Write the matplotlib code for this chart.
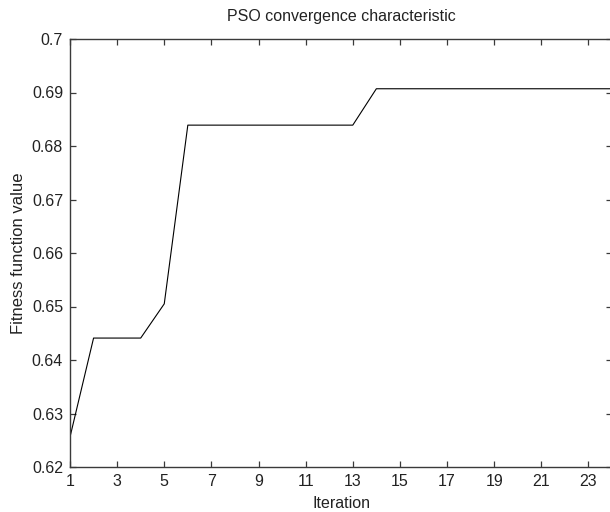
import matplotlib
matplotlib.use('Agg')
import matplotlib.pyplot as plt

# data
iterations = list(range(1, 25))
fitness = [0.6256, 0.6441, 0.6441, 0.6441, 0.6505, 0.6839, 0.6839, 0.6839,
           0.6839, 0.6839, 0.6839, 0.6839, 0.6839, 0.6907, 0.6907, 0.6907,
           0.6907, 0.6907, 0.6907, 0.6907, 0.6907, 0.6907, 0.6907, 0.6907]
xticks = [1, 3, 5, 7, 9, 11, 13, 15, 17, 19, 21, 23]
yticks = [0.62, 0.63, 0.64, 0.65, 0.66, 0.67, 0.68, 0.69, 0.7]
ytick_labels = ['0.62', '0.63', '0.64', '0.65', '0.66', '0.67', '0.68', '0.69', '0.7']

plt.rcParams['font.family'] = ['Liberation Sans', 'DejaVu Sans']
plt.rcParams['font.size'] = 11.5

W, H = 610, 512
fig = plt.figure(figsize=(W / 100, H / 100), dpi=100)
# right spine sits just outside the image, as in the reference
ax = fig.add_axes([70 / W, 1 - 467 / H, (612 - 70) / W, (467 - 39) / H])

ax.plot(iterations, fitness, color='black', linewidth=0.8)

ax.set_xlim(1, 24)
ax.set_ylim(0.62, 0.7)
ax.set_xticks(xticks)
ax.set_yticks(yticks)
ax.set_yticklabels(ytick_labels)

for s in ax.spines.values():
    s.set_color('#3a3a3a')
    s.set_linewidth(1.0)
ax.tick_params(direction='in', top=True, right=True, length=4, width=0.9,
               color='#3a3a3a', labelcolor='#222222', labelsize=11.5)
ax.tick_params(axis='y', pad=5)
ax.tick_params(axis='x', pad=5)

ax.set_title('PSO convergence characteristic', fontsize=11.5, color='#222222', pad=13)
ax.set_xlabel('Iteration', fontsize=11.5, color='#222222', labelpad=5)
ax.set_ylabel('Fitness function value', fontsize=12, color='#222222', labelpad=4)

fig.savefig('out.png', dpi=100)
